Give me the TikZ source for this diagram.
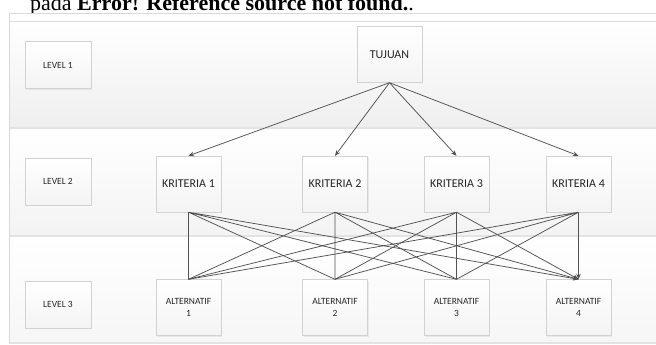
\documentclass[tikz,border=0pt]{standalone}
\usepackage{fontspec}
\setmainfont{Carlito}
\newfontfamily\headserif{Liberation Serif}
\usetikzlibrary{arrows.meta, shadows}

\begin{document}
\begin{tikzpicture}[x=1pt, y=-1pt,
  band/.style={draw=none, top color=white, bottom color=gray!#1},
  divider/.style={draw=gray!22, line width=1.6pt},
  lvlbox/.style={rectangle, draw=gray!35, top color=white, bottom color=gray!9, text=black!85, font=\fontsize{9.5}{11}\selectfont, minimum width=66pt, minimum height=47pt, drop shadow={opacity=0.12, shadow xshift=1pt, shadow yshift=-1pt}},
  itembox/.style={rectangle, draw=gray!35, top color=white, bottom color=gray!9, text=black!85, align=center, minimum width=65pt, minimum height=56pt, drop shadow={opacity=0.12, shadow xshift=1pt, shadow yshift=-1pt}},
  big/.style={font=\fontsize{12}{14}\selectfont},
  small/.style={font=\fontsize{9.5}{12.5}\selectfont},
  link/.style={-{Stealth[length=5.5pt, width=4.5pt]}, draw=black!68, line width=0.75pt}
]
  \useasboundingbox (0,0) rectangle (656,345);
  \clip (0,0) rectangle (656,345);
  % caption line cut off by the page
  \node[font=\headserif\fontsize{22}{24}\selectfont, anchor=base west, inner sep=0pt] (head) at (30,11) {pada \textbf{Error! Reference source not found.}.};
  % frame and level bands
  \draw[gray!30, fill=white] (9,13) rectangle (662,343);
  \path[band=13] (9,21) rectangle (662,128);
  \path[band=9] (9,128) rectangle (662,236);
  \path[band=7] (9,236) rectangle (662,343);
  \draw[gray!25] (9,21) -- (662,21);
  \draw[divider] (9,128) -- (662,128);
  \draw[divider] (9,236) -- (662,236);
  \draw[divider] (9,343) -- (662,343);
  \draw[gray!30] (9,13) -- (9,343);

  \node[lvlbox](lv1) at (58,65) {LEVEL 1};
  \node[lvlbox](lv2) at (58,181.5) {LEVEL 2};
  \node[lvlbox](lv3) at (58,304.5) {LEVEL 3};

  \node[itembox, big](goal) at (389.5,54.5) {TUJUAN};
  \node[itembox, big](k1) at (188.5,184) {KRITERIA 1};
  \node[itembox, big](k2) at (335,184) {KRITERIA 2};
  \node[itembox, big](k3) at (456.5,184) {KRITERIA 3};
  \node[itembox, big](k4) at (578.5,184) {KRITERIA 4};
  \node[itembox, small](a1) at (188.5,307.5) {ALTERNATIF\\1};
  \node[itembox, small](a2) at (335,307.5) {ALTERNATIF\\2};
  \node[itembox, small](a3) at (456.5,307.5) {ALTERNATIF\\3};
  \node[itembox, small](a4) at (578.5,307.5) {ALTERNATIF\\4};

  \draw[link] (goal.south) -- (k1.north);
  \draw[link] (goal.south) -- (k2.north);
  \draw[link] (goal.south) -- (k3.north);
  \draw[link] (goal.south) -- (k4.north);
  \draw[link] (k1.south) -- (a1.north) (k1.south) -- (a2.north) (k1.south) -- (a3.north) (k1.south) -- (a4.north);
  \draw[link] (k2.south) -- (a1.north) (k2.south) -- (a2.north) (k2.south) -- (a3.north) (k2.south) -- (a4.north);
  \draw[link] (k3.south) -- (a1.north) (k3.south) -- (a2.north) (k3.south) -- (a3.north) (k3.south) -- (a4.north);
  \draw[link] (k4.south) -- (a1.north) (k4.south) -- (a2.north) (k4.south) -- (a3.north) (k4.south) -- (a4.north);
\end{tikzpicture}
\end{document}
